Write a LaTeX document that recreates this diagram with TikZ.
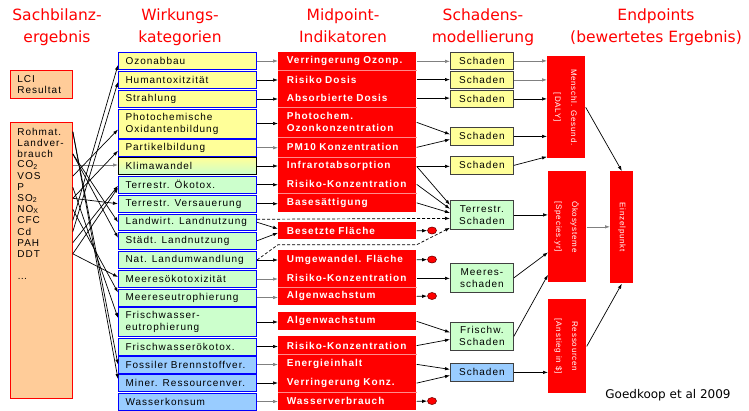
\documentclass[tikz,border=0pt]{standalone}
\usepackage{fontspec}
\setmainfont{Liberation Sans}[LetterSpace=10]
\newfontfamily\headfont{DejaVu Sans}
\usetikzlibrary{arrows.meta,shapes.geometric}

\definecolor{rot}{HTML}{FF0000}
\definecolor{lci}{HTML}{FFCC99}
\definecolor{gelb}{HTML}{FFFF99}
\definecolor{gruen}{HTML}{CCFFCC}
\definecolor{blau}{HTML}{99CCFF}
\definecolor{rand}{HTML}{404040}

\begin{document}
\begin{tikzpicture}[x=1pt, y=-1pt, ->, >={Latex[length=5pt,width=3.5pt]}, line width=0.7pt,
        head/.style={anchor=north, align=center, inner sep=0pt, text=rot, font=\headfont\fontsize{15.5}{22}\selectfont},
        invbox/.style={draw=rot, fill=lci, line width=0.8pt, anchor=north west, minimum width=62pt, inner sep=0pt},
        invtxt/.style={anchor=west, inner sep=0pt, font=\fontsize{10}{12}\selectfont},
        cat/.style={draw=blue, line width=1pt, anchor=north west, text width=124pt, inner xsep=7pt, inner ysep=0pt, align=left, font=\fontsize{10}{12}\selectfont},
        mid/.style={fill=rot, text=white, anchor=north west, text width=121pt, inner xsep=8.5pt, inner ysep=0pt, align=left, font=\bfseries\fontsize{10}{12}\selectfont},
        sep/.style={-, draw=rot!45!white, line width=0.6pt},
        dmg/.style={draw=rand, line width=0.8pt, anchor=north west, minimum width=63pt, inner sep=0pt, align=center, font=\fontsize{10}{12}\selectfont},
        endp/.style={fill=rot, text=white, anchor=north west, inner sep=0pt, font=\fontsize{8}{16}\selectfont},
        punkt/.style={ellipse, fill=rot, draw=red!45!black, line width=0.6pt, minimum width=9pt, minimum height=7pt, inner sep=0pt},
        grau/.style={draw=gray},
        gestr/.style={dash pattern=on 3pt off 2pt}]

    \useasboundingbox (0,0) rectangle (749,410);

    % Ueberschriften
    \node[head] (h1) at (57,8) {Sachbilanz-\\ergebnis};
    \node[head] (h2) at (180,8) {Wirkungs-\\kategorien};
    \node[head] (h3) at (343,8) {Midpoint-\\Indikatoren};
    \node[head] (h4) at (483,8) {Schadens-\\modellierung};
    \node[head] (h5) at (656,8) {Endpoints\\(bewertetes Ergebnis)};

    % Sachbilanz
    \node[invbox, minimum height=28pt, text width=48pt, inner xsep=7pt, align=left, font=\fontsize{10}{11}\selectfont] (lci) at (10,70) {LCI\\Resultat};
    \node[invbox, minimum height=276pt] (inv) at (10,122) {};
    \foreach \n/\t [count=\i] in {rohmat/Rohmat., landver/Landver-, brauch/brauch, co2/CO\textsubscript{2}, vos/VOS, p/P,
            so2/SO\textsubscript{2}, nox/NO\textsubscript{X}, cfc/CFC, cd/Cd, pah/PAH, ddt/DDT}
        \node[invtxt] (\n) at (17,{120.6+\i*11.1}) {\t};
    \node[invtxt] (rest) at (17,279) {\dots};

    % Wirkungskategorien
    \node[cat, fill=gelb, minimum height=17pt] (ozon) at (118,52) {Ozonabbau};
    \node[cat, fill=gelb, minimum height=17pt] (human) at (118,71) {Humantoxitzität};
    \node[cat, fill=gelb, minimum height=17pt] (strahl) at (118,90) {Strahlung};
    \node[cat, fill=gelb, minimum height=29pt] (photo) at (118,108.5) {Photochemische\\Oxidantenbildung};
    \node[cat, fill=gelb, minimum height=16.5pt] (partikel) at (118,139) {Partikelbildung};
    \node[cat, draw=black, top color=gelb, bottom color=gruen, minimum height=17pt] (klima) at (118,157) {Klimawandel};
    \node[cat, fill=gruen, minimum height=17.5pt] (terrok) at (118,175.5) {Terrestr. Ökotox.};
    \node[cat, fill=gruen, minimum height=17.5pt] (versauer) at (118,194.5) {Terrestr. Versauerung};
    \node[cat, fill=gruen, minimum height=16.5pt] (landwirt) at (118,213.5) {Landwirt. Landnutzung};
    \node[cat, fill=gruen, minimum height=16.5pt] (staedt) at (118,232) {Städt. Landnutzung};
    \node[cat, fill=gruen, minimum height=17pt] (natland) at (118,251) {Nat. Landumwandlung};
    \node[cat, fill=gruen, minimum height=17pt] (meerok) at (118,270) {Meeresökotoxizität};
    \node[cat, fill=gruen, minimum height=17pt] (meereu) at (118,288.5) {Meereseutrophierung};
    \node[cat, fill=gruen, minimum height=29pt] (fweu) at (118,307) {Frischwasser-\\eutrophierung};
    \node[cat, fill=gruen, minimum height=17pt] (fwok) at (118,337.5) {Frischwasserökotox.};
    \node[cat, fill=blau, minimum height=17pt] (fossil) at (118,355.5) {Fossiler Brennstoffver.};
    \node[cat, fill=blau, minimum height=17pt] (miner) at (118,374) {Miner. Ressourcenver.};
    \node[cat, fill=blau, minimum height=17pt] (wasserk) at (118,392.5) {Wasserkonsum};

    % Midpoint-Indikatoren
    \node[mid, minimum height=18pt] (ozonp) at (278,52) {Verringerung Ozonp.};
    \node[mid, minimum height=18.5pt] (rdosis) at (278,70) {Risiko Dosis};
    \node[mid, minimum height=18.5pt] (adosis) at (278,88.5) {Absorbierte Dosis};
    \node[mid, minimum height=30pt] (photoc) at (278,107) {Photochem.\\Ozonkonzentration};
    \node[mid, minimum height=20pt] (pm10) at (278,137) {PM10 Konzentration};
    \node[mid, minimum height=18pt] (infra) at (278,157) {Infrarotabsorption};
    \node[mid, minimum height=18pt] (rkterr) at (278,175) {Risiko-Konzentration};
    \node[mid, minimum height=19pt] (base) at (278,193) {Basesättigung};
    \node[mid, minimum height=17pt] (besetzt) at (278,222) {Besetzte Fläche};
    \node[mid, minimum height=19pt] (umgew) at (278,250) {Umgewandel. Fläche};
    \node[mid, minimum height=18pt] (rkmeer) at (278,269) {Risiko-Konzentration};
    \node[mid, minimum height=18pt] (algmeer) at (278,287) {Algenwachstum};
    \node[mid, minimum height=18pt] (algfw) at (278,312) {Algenwachstum};
    \node[mid, minimum height=18.5pt] (rkfw) at (278,336) {Risiko-Konzentration};
    \node[mid, minimum height=19pt] (energie) at (278,354.5) {Energieinhalt};
    \node[mid, minimum height=18.5pt] (konz) at (278,373.5) {Verringerung Konz.};
    \node[mid, minimum height=18pt] (wasser) at (278,392) {Wasserverbrauch};
    \foreach \n in {rdosis, photoc, pm10, infra, base, algmeer, energie, wasser}
        \draw[sep] (\n.north west) -- (\n.north east);

    % Punkte
    \node[punkt] (d1) at (432,230.5) {};
    \node[punkt] (d2) at (432,259.5) {};
    \node[punkt] (d3) at (432,296) {};
    \node[punkt] (d4) at (432,401) {};

    % Schadensmodellierung
    \node[dmg, fill=gelb, minimum height=17pt] (s1) at (450,52) {Schaden};
    \node[dmg, fill=gelb, minimum height=17pt] (s2) at (450,71) {Schaden};
    \node[dmg, fill=gelb, minimum height=17pt] (s3) at (450,90) {Schaden};
    \node[dmg, fill=gelb, minimum height=18pt] (s4) at (450,127) {Schaden};
    \node[dmg, fill=gelb, minimum height=18pt] (s5) at (450,156) {Schaden};
    \node[dmg, fill=gruen, minimum height=29pt] (sterr) at (450,200) {Terrestr.\\Schaden};
    \node[dmg, fill=gruen, minimum height=29pt] (smeer) at (450,263) {Meeres-\\schaden};
    \node[dmg, fill=gruen, minimum height=28pt] (sfw) at (450,322) {Frischw.\\Schaden};
    \node[dmg, fill=blau, minimum height=18pt] (sres) at (450,363) {Schaden};

    % Endpoints
    \node[endp, minimum width=38pt, minimum height=102pt] (mensch) at (547,56)
        {\rotatebox{-90}{\begin{tabular}{@{}c@{}}Menschl. Gesund.\\{}[DALY]\end{tabular}}};
    \node[endp, minimum width=38pt, minimum height=111pt] (oeko) at (548,171)
        {\rotatebox{-90}{\begin{tabular}{@{}c@{}}Ökosysteme\\{}[Species.yr]\end{tabular}}};
    \node[endp, minimum width=38pt, minimum height=94pt] (ress) at (548,299)
        {\rotatebox{-90}{\begin{tabular}{@{}c@{}}Ressourcen\\{}[Anstieg in \$]\end{tabular}}};
    \node[endp, minimum width=23pt, minimum height=112pt] (einzel) at (610,171)
        {\rotatebox{-90}{Einzelpunkt}};

    \node[anchor=base west, inner sep=0pt, font=\headfont\fontsize{12}{14}\selectfont] (quelle) at (605,398) {Goedkoop et al 2009};

    % Sachbilanz -> Wirkungskategorien
    \path (inv.east |- rohmat) edge (fossil.west);
    \path (inv.east |- rohmat) edge ([yshift=4pt]miner.west);
    \path (inv.east |- co2) edge[grau] (klima.west |- co2);
    \path (inv.east |- vos) edge ([yshift=-6pt]photo.west);
    \path (inv.east |- p) edge ([yshift=4pt]fweu.west);
    \path (inv.east |- so2) edge ([yshift=-3pt]partikel.west);
    \path (inv.east |- so2) edge (versauer.west);
    \path (inv.east |- nox) edge ([yshift=5pt]meereu.west);
    \path (inv.east |- cfc) edge ([yshift=-4pt]ozon.west);
    \path (inv.east |- cd) edge ([yshift=-2pt]human.west);
    \path (inv.east |- pah) edge ([yshift=-1pt]terrok.west);
    \path (inv.east |- ddt) edge ([yshift=-3pt]terrok.west);
    \path (inv.east |- ddt) edge ([yshift=2pt]meerok.west);
    \path (inv.east |- brauch) edge (landwirt.west);
    \path (inv.east |- brauch) edge ([yshift=3pt]staedt.west);

    % Wirkungskategorien -> Midpoints
    \path (ozon.east) edge[grau] (ozon.east -| ozonp.west);
    \path (human.east) edge (human.east -| rdosis.west);
    \path (strahl.east) edge (strahl.east -| adosis.west);
    \path (photo.east) edge (photo.east -| photoc.west);
    \path (partikel.east) edge[grau] (partikel.east -| pm10.west);
    \path (klima.east) edge (klima.east -| infra.west);
    \path (terrok.east) edge (terrok.east -| rkterr.west);
    \path (versauer.east) edge (versauer.east -| base.west);
    \path (landwirt.east) edge ([yshift=2pt]besetzt.west);
    \path (staedt.east) edge ([yshift=-2pt]besetzt.west);
    \path (natland.east) edge (natland.east -| umgew.west);
    \path (meerok.east) edge[grau] (meerok.east -| rkmeer.west);
    \path (meereu.east) edge[grau] (meereu.east -| algmeer.west);
    \path (fweu.east) edge (fweu.east -| algfw.west);
    \path (fwok.east) edge (fwok.east -| rkfw.west);
    \path (fossil.east) edge[grau] (fossil.east -| energie.west);
    \path (miner.east) edge (miner.east -| konz.west);
    \path (wasserk.east) edge[grau] (wasserk.east -| wasser.west);
    \draw[gestr] ([yshift=3pt]landwirt.east) -- ([yshift=-3.5pt]sterr.west);
    \draw[gestr] (natland.east) -- ([yshift=-5pt]besetzt.south west) -- ([yshift=-5pt]besetzt.south east) -- ([yshift=2pt]sterr.south west);

    % Midpoints -> Schaden
    \path (ozonp.east) edge[grau] (ozonp.east -| s1.west);
    \path (rdosis.east) edge (rdosis.east -| s2.west);
    \path (adosis.east) edge (adosis.east -| s3.west);
    \path (photoc.east) edge ([yshift=2pt]s4.west);
    \path (pm10.east) edge ([yshift=-3pt]s4.west);
    \path (infra.east) edge (infra.east -| s5.west);
    \path (infra.east) edge ([yshift=10pt]sterr.west);
    \path (rkterr.east) edge ([yshift=6pt]sterr.west);
    \path (base.east) edge ([yshift=2pt]sterr.west);
    \path (rkmeer.east) edge (rkmeer.east -| smeer.west);
    \path (algfw.east) edge ([yshift=4pt]sfw.west);
    \path (rkfw.east) edge ([yshift=-3pt]sfw.west);
    \path (energie.east) edge ([yshift=3pt]sres.west);
    \path (konz.east) edge ([yshift=-3pt]sres.west);
    \path (besetzt.east) edge (d1);
    \path (umgew.east) edge (d2);
    \path (algmeer.east) edge (d3);
    \path (wasser.east) edge (d4);

    % Schaden -> Endpoints
    \path (s1.east) edge[grau] (s1.east -| mensch.west);
    \path (s2.east) edge[grau] (s2.east -| mensch.west);
    \path (s3.east) edge (s3.east -| mensch.west);
    \path (s4.east) edge (s4.east -| mensch.west);
    \path (s5.east) edge ([yshift=2pt]mensch.south west);
    \path (sterr.east) edge (sterr.east -| oeko.west);
    \path (smeer.east) edge ([yshift=-25.5pt]oeko.west);
    \path (sfw.east) edge ([yshift=8pt]oeko.south west);
    \path (sres.east) edge (sres.east -| ress.west);

    % Endpoints -> Einzelpunkt
    \path (mensch.east) edge (einzel.north);
    \path (oeko.east) edge[grau] (oeko.east -| einzel.west);
    \path (ress.east) edge (einzel.south);
\end{tikzpicture}
\end{document}
